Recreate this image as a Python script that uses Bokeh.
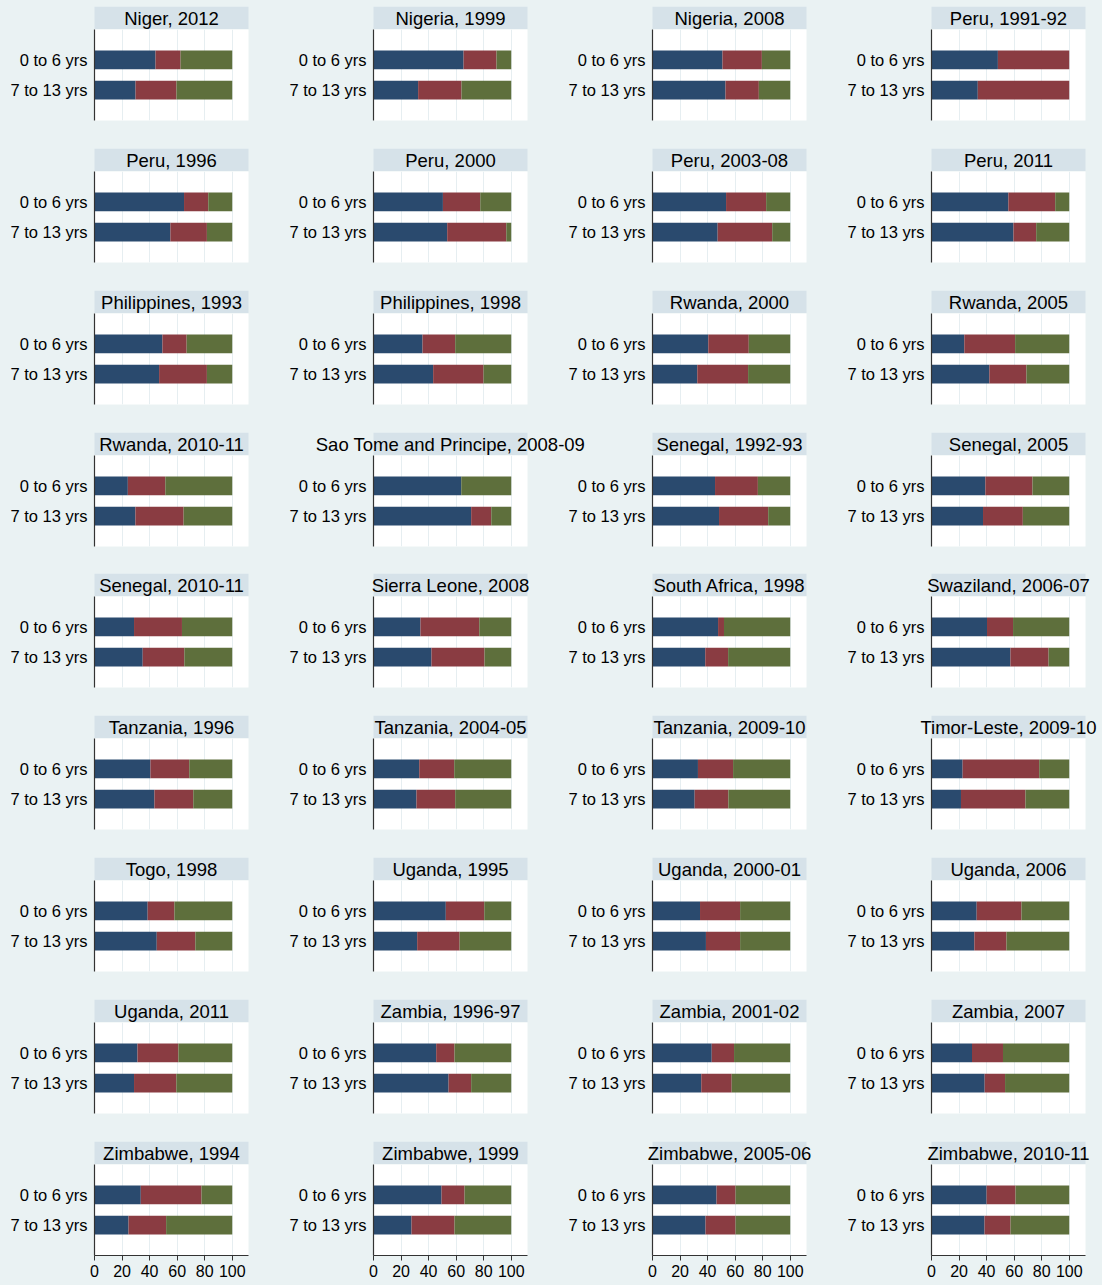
from bokeh.plotting import figure
from bokeh.layouts import column, row
from bokeh.models import ColumnDataSource, FactorRange, Range1d, FixedTicker, Spacer
from bokeh.core.properties import value
from bokeh.embed import file_html
from bokeh.resources import INLINE

# ---------------- data ----------------
titles = [
    "Niger, 2012", "Nigeria, 1999", "Nigeria, 2008", "Peru, 1991-92",
    "Peru, 1996", "Peru, 2000", "Peru, 2003-08", "Peru, 2011",
    "Philippines, 1993", "Philippines, 1998", "Rwanda, 2000", "Rwanda, 2005",
    "Rwanda, 2010-11", "Sao Tome and Principe, 2008-09", "Senegal, 1992-93", "Senegal, 2005",
    "Senegal, 2010-11", "Sierra Leone, 2008", "South Africa, 1998", "Swaziland, 2006-07",
    "Tanzania, 1996", "Tanzania, 2004-05", "Tanzania, 2009-10", "Timor-Leste, 2009-10",
    "Togo, 1998", "Uganda, 1995", "Uganda, 2000-01", "Uganda, 2006",
    "Uganda, 2011", "Zambia, 1996-97", "Zambia, 2001-02", "Zambia, 2007",
    "Zimbabwe, 1994", "Zimbabwe, 1999", "Zimbabwe, 2005-06", "Zimbabwe, 2010-11",
]
age_groups = ["0 to 6 yrs", "7 to 13 yrs"]
x_ticks = [0, 20, 40, 60, 80, 100]

# segment shares (%), age 0 to 6
blue_0to6 = [44.3, 65.4, 50.8, 48.2, 65.0, 50.4, 53.4, 55.8, 49.3, 35.6, 40.5, 23.8,
             24.2, 63.7, 45.4, 39.1, 28.7, 34.1, 47.6, 40.3, 40.6, 33.2, 33.0, 22.6,
             38.6, 52.5, 34.5, 32.8, 31.2, 45.5, 43.0, 29.4, 33.6, 49.4, 46.5, 40.0]
red_0to6 = [18.2, 23.9, 28.6, 51.8, 17.6, 27.1, 29.1, 34.0, 17.6, 23.7, 29.4, 36.9,
            27.2, 0.0, 31.1, 34.2, 34.8, 42.7, 4.3, 18.9, 28.2, 25.4, 25.5, 55.6,
            19.4, 27.9, 29.1, 32.5, 29.7, 13.3, 16.2, 22.5, 44.1, 16.7, 13.8, 21.0]
green_0to6 = [37.5, 10.7, 20.6, 0.0, 17.4, 22.5, 17.5, 10.2, 33.1, 40.7, 30.1, 39.3,
              48.6, 36.3, 23.5, 26.7, 36.5, 23.2, 48.1, 40.8, 31.2, 41.4, 41.5, 21.8,
              42.0, 19.6, 36.4, 34.7, 39.1, 41.2, 40.8, 48.1, 22.3, 33.9, 39.7, 39.0]
# segment shares (%), age 7 to 13
blue_7to13 = [29.8, 32.4, 53.0, 33.6, 55.1, 53.5, 47.3, 59.5, 46.9, 43.3, 32.5, 42.0,
              29.7, 70.9, 48.3, 37.4, 35.0, 42.1, 38.3, 57.3, 43.5, 31.2, 30.6, 21.4,
              45.2, 31.7, 38.8, 31.1, 28.7, 54.5, 35.4, 38.6, 24.7, 27.6, 38.5, 38.5]
red_7to13 = [29.7, 31.5, 24.2, 66.4, 26.5, 42.9, 39.6, 16.5, 34.7, 36.6, 36.9, 26.9,
             35.0, 14.6, 35.7, 28.9, 30.2, 38.5, 16.6, 27.7, 28.2, 28.1, 24.5, 46.8,
             28.0, 30.8, 24.8, 23.3, 30.7, 16.4, 22.1, 14.8, 27.3, 31.2, 21.8, 18.9]
green_7to13 = [40.5, 36.1, 22.8, 0.0, 18.4, 3.6, 13.1, 24.0, 18.4, 20.1, 30.6, 31.1,
               35.3, 14.5, 16.0, 33.7, 34.8, 19.4, 45.1, 15.0, 28.3, 40.7, 44.9, 31.8,
               26.8, 37.5, 36.4, 45.6, 40.6, 29.1, 42.5, 46.6, 48.0, 41.2, 39.7, 42.6]

# ---------------- style ----------------
BG = "#eaf2f3"
STRIP = "#d6e2e9"
GRID = "#e6eef1"
AXIS = "#333333"
COLORS = ["#2a4a6e", "#8a3c42", "#5e6f3c"]
FONT = "Liberation Sans"
NCOL, NROW = 4, 9
PLOT_W, PLOT_H = 154, 91
LEFT_B = 94
COL_W = 279
RIGHT_B = [31, 31, 31, 17]
TOTAL_W = sum(LEFT_B + PLOT_W + rb for rb in RIGHT_B)
STRIP_H = 23
TOP_PAD = 6
GAP_B = [28, 28, 28, 27, 28, 28, 28, 28]


def strip_fig(row_titles):
    s = figure(width=TOTAL_W, height=STRIP_H,
               x_range=Range1d(0, TOTAL_W), y_range=Range1d(0, 1),
               toolbar_location=None, output_backend="svg",
               x_axis_location=None, y_axis_location=None)
    s.min_border_left = s.min_border_right = 0
    s.min_border_top = s.min_border_bottom = 0
    s.grid.visible = False
    s.outline_line_color = None
    s.background_fill_color = BG
    s.border_fill_color = BG
    xs = [COL_W * c + LEFT_B + PLOT_W / 2 for c in range(len(row_titles))]
    src = ColumnDataSource(dict(x=xs, title=row_titles))
    s.rect(x="x", y=0.5, width=PLOT_W, height=1, fill_color=STRIP, line_color=None, source=src)
    s.text(x="x", y=0.5, text="title", text_align="center", text_baseline="middle",
           text_font=value(FONT), text_font_size="18.5px", text_color="black", source=src)
    return s


def panel(i, c, last_row, bottom_b):
    p = figure(frame_width=PLOT_W, frame_height=PLOT_H,
               x_range=Range1d(0, 111.8),
               y_range=FactorRange(factors=age_groups[::-1], range_padding=0.5,
                                   range_padding_units="absolute"),
               toolbar_location=None, output_backend="svg",
               x_axis_location="below" if last_row else None)
    p.min_border_left = LEFT_B
    p.min_border_right = RIGHT_B[c]
    p.min_border_top = 0
    p.min_border_bottom = bottom_b
    p.background_fill_color = "white"
    p.border_fill_color = BG
    p.outline_line_color = None

    src = ColumnDataSource(dict(
        age=age_groups,
        s1=[blue_0to6[i], blue_7to13[i]],
        s2=[red_0to6[i], red_7to13[i]],
        s3=[green_0to6[i], green_7to13[i]],
    ))
    p.xgrid.ticker = FixedTicker(ticks=x_ticks[1:])
    p.xgrid.grid_line_color = GRID
    p.xgrid.grid_line_width = 1
    p.ygrid.visible = False

    p.hbar_stack(["s1", "s2", "s3"], y="age", height=0.62, color=COLORS,
                 line_color=None, source=src)

    ya = p.yaxis[0]
    ya.axis_line_color = AXIS
    ya.axis_line_width = 1.2
    ya.major_tick_line_color = None
    ya.major_tick_out = 0
    ya.major_tick_in = 0
    ya.minor_tick_line_color = None
    ya.minor_tick_out = 0
    ya.major_label_standoff = 7
    ya.major_label_text_font = FONT
    ya.major_label_text_font_size = "16.5px"
    ya.major_label_text_color = "black"

    if last_row:
        xa = p.xaxis[0]
        xa.ticker = FixedTicker(ticks=x_ticks)
        xa.axis_line_color = AXIS
        xa.axis_line_width = 1.2
        xa.major_tick_line_color = AXIS
        xa.major_tick_out = 5
        xa.major_tick_in = 0
        xa.minor_tick_line_color = None
        xa.major_label_standoff = 4
        xa.major_label_text_font = FONT
        xa.major_label_text_font_size = "16px"
        xa.major_label_text_color = "black"
    return p


children = [Spacer(width=TOTAL_W, height=TOP_PAD, styles={"background-color": BG})]
for r in range(NROW):
    idx = list(range(r * NCOL, (r + 1) * NCOL))
    children.append(strip_fig([titles[i] for i in idx]))
    last = r == NROW - 1
    bb = 28 if last else GAP_B[r]
    children.append(row(*[panel(i, c, last, bb) for c, i in enumerate(idx)]))

layout = column(*children, styles={"background-color": BG})
html = file_html(layout, INLINE)
html = html.replace("</head>", "<style>html, body { background-color: %s; }</style></head>" % BG, 1)
open("out.html", "w").write(html)
